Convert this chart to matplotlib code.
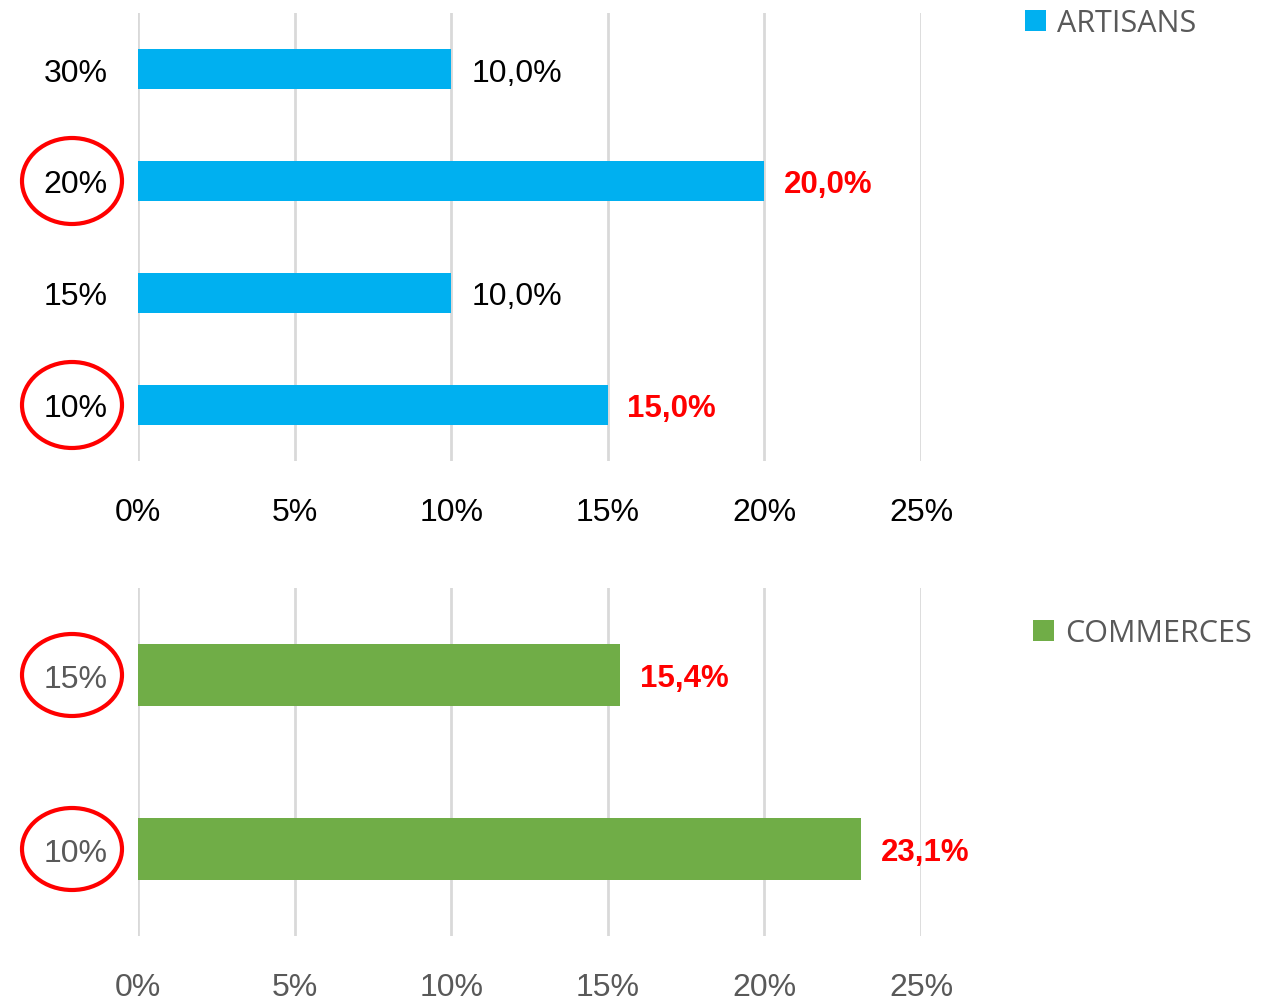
import matplotlib
matplotlib.use("Agg")
import matplotlib.pyplot as plt
from matplotlib.patches import Ellipse, Patch
from matplotlib.transforms import blended_transform_factory

plt.rcParams['font.family'] = ['Liberation Sans', 'DejaVu Sans']

# Data
art_cats = ["10%", "15%", "20%", "30%"]
art_vals = [15.0, 10.0, 20.0, 10.0]
art_labels = ["15,0%", "10,0%", "20,0%", "10,0%"]
art_highlight = [True, False, True, False]

com_cats = ["10%", "15%"]
com_vals = [23.1, 15.4]
com_labels = ["23,1%", "15,4%"]
com_highlight = [True, True]

xticks = [0, 5, 10, 15, 20, 25]
xtick_labels = ["0%", "5%", "10%", "15%", "20%", "25%"]

W, H = 1270, 1003
fig = plt.figure(figsize=(W / 100, H / 100), dpi=100)

def px_axes(l, t, r, b):
    return fig.add_axes([l / W, 1 - b / H, (r - l) / W, (b - t) / H])

def draw(ax, cats, vals, labels, hl, color, tickcolor, bar_h, ell_h, legend_name, leg_xy):
    y = list(range(len(cats)))
    ax.barh(y, vals, height=bar_h, color=color, zorder=3)
    ax.set_xlim(0, 25)
    ax.set_ylim(-0.5, len(cats) - 0.5)
    ax.set_xticks(xticks)
    ax.set_xticklabels(xtick_labels)
    ax.set_yticks(y)
    ax.set_yticklabels(cats)
    ax.tick_params(axis='both', length=0, labelsize=23, colors=tickcolor)
    ax.tick_params(axis='y', pad=22)
    ax.tick_params(axis='x', pad=26)
    for t in ax.get_yticklabels():
        t.set_va('center_baseline')
    for s in ax.spines.values():
        s.set_visible(False)
    ax.grid(axis='x', color='#d9d9d9', linewidth=2, zorder=0)
    ax.set_axisbelow(True)
    tr = blended_transform_factory(fig.transFigure, ax.transData)
    for yi, v, lab, h in zip(y, vals, labels, hl):
        if h:
            ax.annotate(lab, (v, yi), xytext=(14, 0), textcoords='offset points',
                        va='center_baseline', ha='left', fontsize=22.5, color='#ff0000',
                        fontweight='bold', annotation_clip=False)
            e = Ellipse((72 / W, yi), 100 / W, ell_h, transform=tr, fill=False,
                        edgecolor='#ff0000', linewidth=3, clip_on=False)
            fig.add_artist(e)
        else:
            ax.annotate(lab, (v, yi), xytext=(15, 0), textcoords='offset points',
                        va='center_baseline', ha='left', fontsize=23, color='black',
                        annotation_clip=False)
    handle = Patch(facecolor=color, edgecolor='none')
    leg = fig.legend([handle], [legend_name], loc='center left',
                     bbox_to_anchor=(leg_xy[0] / W, 1 - leg_xy[1] / H),
                     frameon=False, handlelength=0.7, handleheight=0.7,
                     handletextpad=0.35, borderpad=0, borderaxespad=0,
                     prop={'family': 'Open Sans', 'size': 22})
    for t in leg.get_texts():
        t.set_color('#595959')

ax1 = px_axes(138, 14, 921, 462)
draw(ax1, art_cats, art_vals, art_labels, art_highlight, '#00B0F0', 'black',
     0.357, 86 / 112, "ARTISANS", (1025, 24))

ax2 = px_axes(138, 589, 921, 937)
draw(ax2, com_cats, com_vals, com_labels, com_highlight, '#70AD47', '#595959',
     0.36, 82 / 174, "COMMERCES", (1033, 634))

fig.savefig("out.png", dpi=100)
